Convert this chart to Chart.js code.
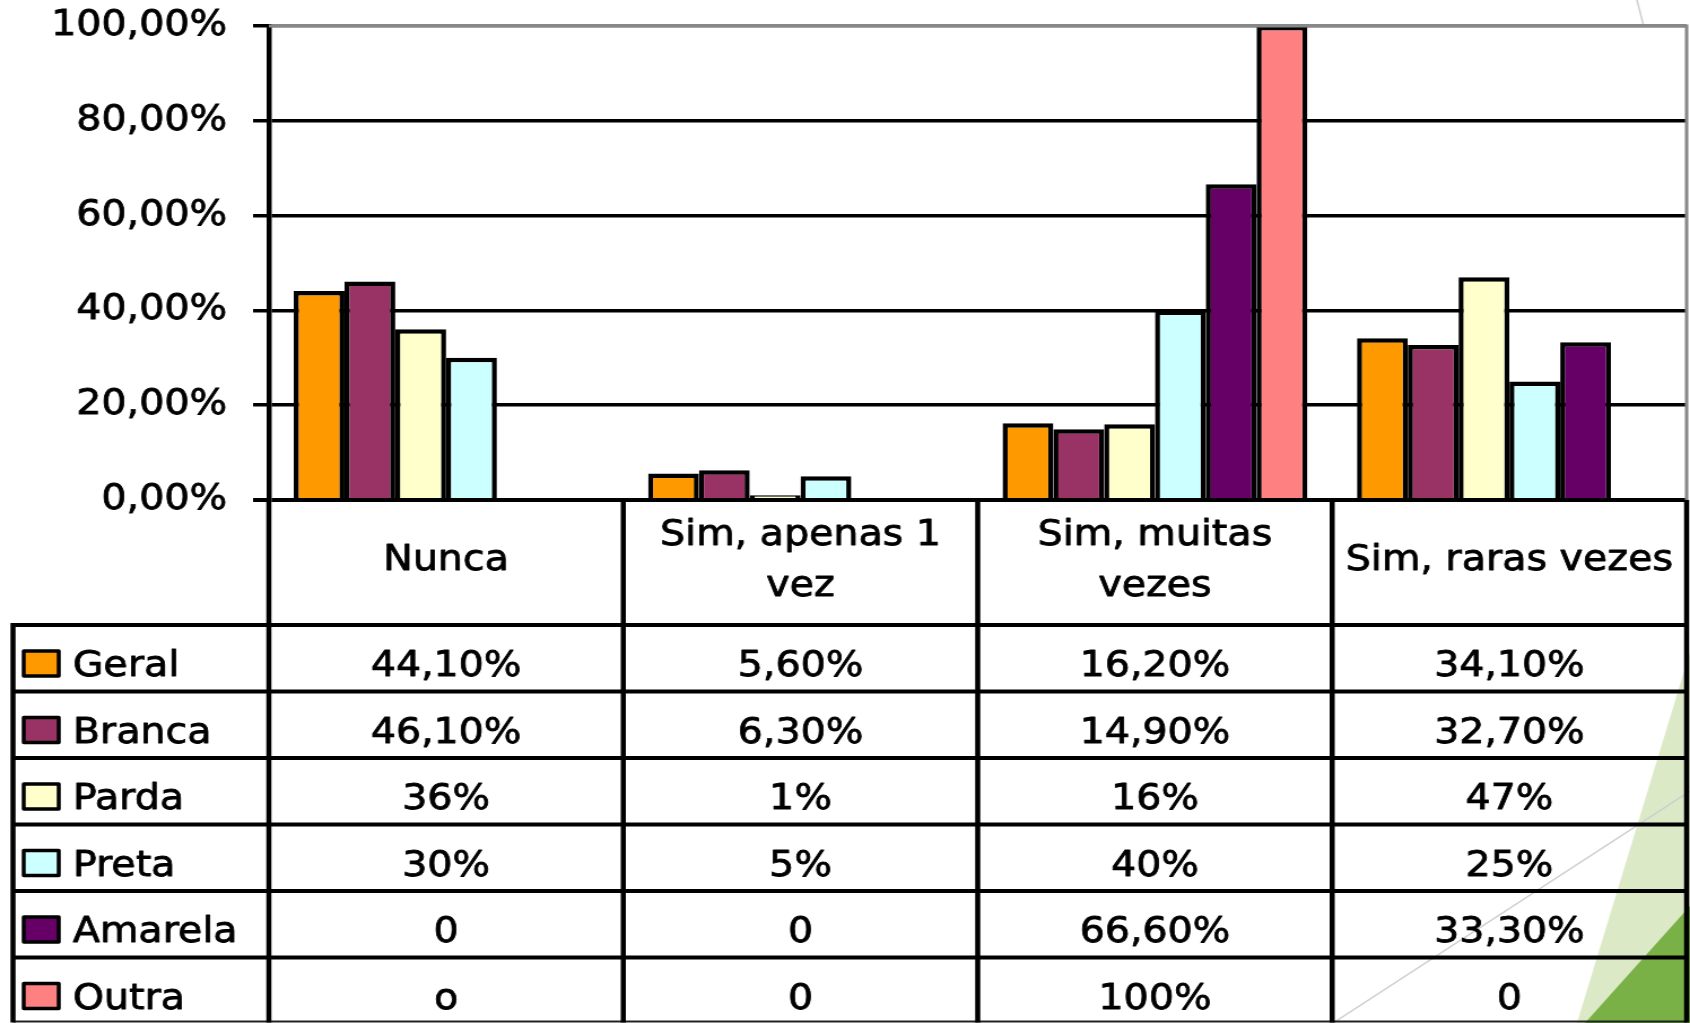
<!DOCTYPE html>
<html>
<head>
<meta charset="utf-8">
<script src="https://cdn.jsdelivr.net/npm/chart.js@4.4.1/dist/chart.umd.min.js"></script>
<style>
  html, body { margin: 0; padding: 0; background: #fff; overflow: hidden; }
</style>
</head>
<body>
<!-- the source picture is stretched sideways, so the canvas is drawn narrower and widened by css -->
<canvas id="chart" width="1496" height="1023" style="display:block;width:1690px;height:1023px"></canvas>
<script>
const categories = [['Nunca'], ['Sim, apenas 1', 'vez'], ['Sim, muitas', 'vezes'], ['Sim, raras vezes']];
const seriesNames = ['Geral', 'Branca', 'Parda', 'Preta', 'Amarela', 'Outra'];
const seriesColors = ['#FF9900', '#993366', '#FFFFCC', '#CCFFFF', '#660066', '#FF8080'];

const geral = [44.1, 5.6, 16.2, 34.1];
const branca = [46.1, 6.3, 14.9, 32.7];
const parda = [36, 1, 16, 47];
const preta = [30, 5, 40, 25];
const amarela = [0, 0, 66.6, 33.3];
const outra = [0, 0, 100, 0];

// text as printed in the data table under the chart
const geralText = ['44,10%', '5,60%', '16,20%', '34,10%'];
const brancaText = ['46,10%', '6,30%', '14,90%', '32,70%'];
const pardaText = ['36%', '1%', '16%', '47%'];
const pretaText = ['30%', '5%', '40%', '25%'];
const amarelaText = ['0', '0', '66,60%', '33,30%'];
const outraText = ['o', '0', '100%', '0'];

const yTickLabels = ['0,00%', '20,00%', '40,00%', '60,00%', '80,00%', '100,00%'];

const seriesValues = [geral, branca, parda, preta, amarela, outra];
const seriesText = [geralText, brancaText, pardaText, pretaText, amarelaText, outraText];

const FONT_FAMILY = '"DejaVu Sans", Verdana, sans-serif';
const FONT = '35px ' + FONT_FAMILY;

// white page + the green slide corner behind everything
const backdrop = {
  id: 'backdrop',
  beforeDraw(chart) {
    const ctx = chart.ctx, W = chart.width, H = chart.height, a = chart.chartArea;
    ctx.save();
    ctx.fillStyle = '#fff';
    ctx.fillRect(0, 0, W, H);

    ctx.fillStyle = '#dbe9c6';
    ctx.beginPath();
    ctx.moveTo(W, 652); ctx.lineTo(1396, H); ctx.lineTo(W, H);
    ctx.closePath(); ctx.fill();

    ctx.fillStyle = '#79b147';
    ctx.beginPath();
    ctx.moveTo(W, 906); ctx.lineTo(1403, H); ctx.lineTo(W, H);
    ctx.closePath(); ctx.fill();

    ctx.strokeStyle = '#cfcfcf';
    ctx.lineWidth = 1.5;
    ctx.beginPath();
    ctx.moveTo(1180, H); ctx.lineTo(W, 791);
    ctx.moveTo(1449, 0); ctx.lineTo(1455, a.top);
    ctx.stroke();

    ctx.fillStyle = '#fff';
    ctx.fillRect(a.left, a.top, a.right - a.left, a.bottom - a.top);
    ctx.restore();
  }
};

function boldText(ctx, t, x, y) {
  ctx.strokeText(t, x, y);
  ctx.fillText(t, x, y);
}

// data table with legend keys under the plot
const dataTable = {
  id: 'dataTable',
  afterDraw(chart) {
    const ctx = chart.ctx, a = chart.chartArea, xs = chart.scales.x;
    const half = (xs.getPixelForValue(1) - xs.getPixelForValue(0)) / 2;
    const rowTop = 625, rowH = 66.5, bottom = 1021.5, legendLeft = 11.5;

    ctx.save();
    // plot frame (top and right)
    ctx.strokeStyle = '#888';
    ctx.lineWidth = 3;
    ctx.beginPath();
    ctx.moveTo(a.left, a.top); ctx.lineTo(a.right, a.top); ctx.lineTo(a.right, a.bottom);
    ctx.stroke();

    ctx.strokeStyle = '#000';
    // horizontal rows
    ctx.lineWidth = 4;
    ctx.beginPath();
    for (let r = 0; r < seriesNames.length; r++) {
      const y = rowTop + r * rowH;
      ctx.moveTo(legendLeft, y); ctx.lineTo(a.right, y);
    }
    ctx.stroke();
    ctx.strokeStyle = '#222';
    ctx.lineWidth = 2;
    ctx.beginPath();
    ctx.moveTo(legendLeft, bottom); ctx.lineTo(a.right, bottom);
    ctx.stroke();

    // vertical columns
    ctx.strokeStyle = '#000';
    ctx.lineWidth = 4.5;
    ctx.beginPath();
    for (let i = 0; i < categories.length; i++) {
      const x = xs.getPixelForValue(i) - half;
      ctx.moveTo(x, a.bottom); ctx.lineTo(x, bottom + 1);
    }
    ctx.moveTo(a.right, a.bottom); ctx.lineTo(a.right, bottom + 1);
    ctx.moveTo(legendLeft, rowTop - 2); ctx.lineTo(legendLeft, bottom + 1);
    ctx.stroke();

    ctx.font = FONT;
    ctx.fillStyle = '#000';
    ctx.strokeStyle = '#000';
    ctx.lineWidth = 0.8;
    ctx.lineJoin = 'round';

    // category header
    ctx.textAlign = 'center';
    ctx.textBaseline = 'middle';
    categories.forEach((lines, i) => {
      const cx = xs.getPixelForValue(i);
      const y0 = 561 - (lines.length - 1) * 25.5;
      lines.forEach((t, k) => boldText(ctx, t, cx, y0 + k * 51));
    });

    // series rows
    ctx.textBaseline = 'alphabetic';
    seriesNames.forEach((name, r) => {
      const top = rowTop + r * rowH;
      ctx.fillStyle = seriesColors[r];
      ctx.fillRect(21, top + 26, 31, 25);
      ctx.lineWidth = 3.5;
      ctx.strokeRect(21, top + 26, 31, 25);

      ctx.fillStyle = '#000';
      ctx.lineWidth = 0.8;
      ctx.textAlign = 'left';
      boldText(ctx, name, 64.5, top + 51);
      ctx.textAlign = 'center';
      seriesText[r].forEach((t, i) => boldText(ctx, t, xs.getPixelForValue(i), top + 51));
    });
    ctx.restore();
  }
};

new Chart(document.getElementById('chart'), {
  type: 'bar',
  data: {
    labels: categories,
    datasets: seriesNames.map((name, i) => ({
      label: name,
      data: seriesValues[i],
      backgroundColor: seriesColors[i],
      borderColor: '#000',
      borderWidth: 4.5,
      categoryPercentage: 0.86,
      barPercentage: 1
    }))
  },
  options: {
    responsive: false,
    animation: false,
    devicePixelRatio: 1,
    layout: { padding: { top: 26, bottom: 523, left: 0, right: 3 } },
    plugins: {
      legend: { display: false },
      tooltip: { enabled: false }
    },
    scales: {
      x: { display: false },
      y: {
        min: 0,
        max: 100,
        afterFit: s => {
          s.width = 238;
          s.paddingTop = 0;
          s.paddingBottom = 0;
        },
        ticks: {
          stepSize: 20,
          padding: 23,
          color: '#000',
          textStrokeColor: '#000',
          textStrokeWidth: 0.8,
          font: { family: FONT_FAMILY, size: 35 },
          callback: v => yTickLabels[Math.round(v / 20)]
        },
        grid: {
          color: c => c.tick && c.tick.value === 100 ? '#888' : '#000',
          tickColor: '#000',
          lineWidth: c => c.tick && c.tick.value === 0 ? 4 : 3.5,
          tickLength: 14
        },
        border: { color: '#000', width: 4.5 }
      }
    }
  },
  plugins: [backdrop, dataTable]
});
</script>
</body>
</html>
